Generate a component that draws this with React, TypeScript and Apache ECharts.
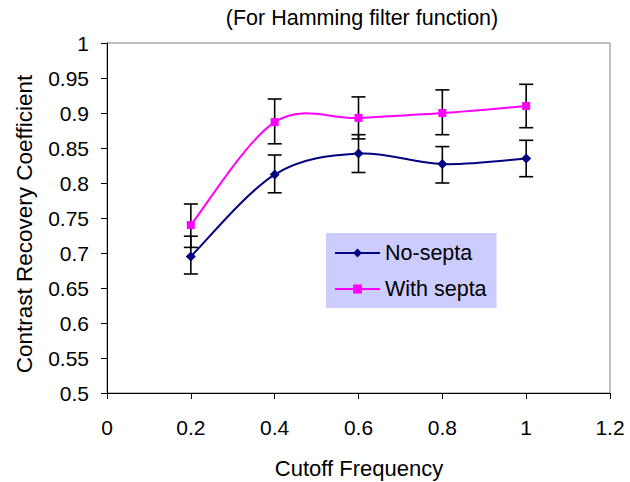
import React, { useEffect, useRef } from "react";
import * as echarts from "echarts";

const xs = [0.2, 0.4, 0.6, 0.8, 1.0];
const noSepta = [0.695, 0.812, 0.842, 0.827, 0.835];
const noSeptaLow = [0.670, 0.786, 0.815, 0.800, 0.809];
const noSeptaHigh = [0.724, 0.840, 0.869, 0.852, 0.861];
const withSepta = [0.740, 0.887, 0.893, 0.900, 0.910];
const withSeptaLow = [0.708, 0.856, 0.863, 0.869, 0.879];
const withSeptaHigh = [0.770, 0.920, 0.923, 0.933, 0.941];

const NAVY = "#000080";
const MAGENTA = "#ff00ff";
const FONT = "'Liberation Sans', Arial, sans-serif";

function makeCurve(name: string, ys: number[], color: string) {
  const n = xs.length;
  return {
    type: "custom",
    name,
    z: 3,
    silent: true,
    data: xs.map((x, i) => [x, ys[i]]),
    encode: { x: 0, y: 1 },
    renderItem: (params: any, api: any) => {
      const i = params.dataIndex;
      if (i >= n - 1) return { type: "group", children: [] };
      const P = (k: number) => {
        const kk = Math.max(0, Math.min(n - 1, k));
        return api.coord([xs[kk], ys[kk]]);
      };
      const p0 = P(i - 1), p1 = P(i), p2 = P(i + 1), p3 = P(i + 2);
      return {
        type: "bezierCurve",
        shape: {
          x1: p1[0], y1: p1[1], x2: p2[0], y2: p2[1],
          cpx1: p1[0] + (p2[0] - p0[0]) / 6,
          cpy1: p1[1] + (p2[1] - p0[1]) / 6,
          cpx2: p2[0] - (p3[0] - p1[0]) / 6,
          cpy2: p2[1] - (p3[1] - p1[1]) / 6,
        },
        style: { stroke: color, lineWidth: 2, fill: "none" },
      };
    },
  };
}

function makeErr(low: number[], high: number[]) {
  return {
    type: "custom",
    z: 2,
    silent: true,
    data: xs.map((x, i) => [x, low[i], high[i]]),
    encode: { x: 0, y: [1, 2] },
    renderItem: (params: any, api: any) => {
      const x = api.value(0);
      const lo = api.coord([x, api.value(1)]);
      const hi = api.coord([x, api.value(2)]);
      const w = 7;
      const st = { stroke: "#000", lineWidth: 1.6 };
      return {
        type: "group",
        children: [
          { type: "line", shape: { x1: lo[0], y1: lo[1], x2: hi[0], y2: hi[1] }, style: st },
          { type: "line", shape: { x1: lo[0] - w, y1: lo[1], x2: lo[0] + w, y2: lo[1] }, style: st },
          { type: "line", shape: { x1: hi[0] - w, y1: hi[1], x2: hi[0] + w, y2: hi[1] }, style: st },
        ],
      };
    },
  };
}

export default function App() {
  const ref = useRef<HTMLDivElement>(null);
  useEffect(() => {
    if (!ref.current) return;
    const chart = echarts.init(ref.current, null, { renderer: "svg" });
    const axisCommon = {
      type: "value",
      splitLine: { show: false },
      axisLine: { show: true, lineStyle: { color: "#000", width: 1 } },
      axisTick: { show: true, length: 6, lineStyle: { color: "#000" } },
    };
    chart.setOption({
      animation: false,
      backgroundColor: "#fff",
      grid: {
        left: 107, right: 20, top: 43, bottom: 89,
        show: true, borderColor: "#808080", borderWidth: 1,
        containLabel: false, outerBoundsMode: "none",
      },
      xAxis: {
        ...axisCommon,
        min: 0, max: 1.2, interval: 0.2,
        axisLabel: { color: "#000", fontSize: 21, fontFamily: FONT, margin: 24 },
      },
      yAxis: {
        ...axisCommon,
        min: 0.5, max: 1, interval: 0.05,
        axisLabel: { color: "#000", fontSize: 21, fontFamily: FONT, margin: 18 },
      },
      legend: {
        orient: "vertical",
        left: 326, top: 233,
        padding: [9, 10, 8, 8],
        itemGap: 14,
        itemWidth: 45,
        itemHeight: 11,
        backgroundColor: "#ccccff",
        borderWidth: 0,
        data: ["No-septa", "With septa"],
        textStyle: { color: "#000", fontSize: 21.5, fontFamily: FONT, lineHeight: 22 },
        lineStyle: { opacity: 1, width: 2 },
      },
      graphic: [
        {
          type: "text", x: 362, y: 17.5, silent: true,
          style: { text: "(For Hamming filter function)", font: `21.5px ${FONT}`, fill: "#000", align: "center", verticalAlign: "middle" },
        },
        {
          type: "text", x: 359, y: 468, silent: true,
          style: { text: "Cutoff Frequency", font: `22px ${FONT}`, fill: "#000", align: "center", verticalAlign: "middle" },
        },
        {
          type: "text", x: 24, y: 224, rotation: Math.PI / 2, silent: true,
          style: { text: "Contrast Recovery Coefficient", font: `22.5px ${FONT}`, fill: "#000", align: "center", verticalAlign: "middle" },
        },
      ],
      series: [
        makeErr(noSeptaLow, noSeptaHigh),
        makeErr(withSeptaLow, withSeptaHigh),
        makeCurve("No-septa curve", noSepta, NAVY),
        makeCurve("With septa curve", withSepta, MAGENTA),
        {
          type: "line", name: "No-septa", z: 4,
          data: xs.map((x, i) => [x, noSepta[i]]),
          symbol: "diamond", symbolSize: 10, showAllSymbol: true,
          itemStyle: { color: NAVY },
          lineStyle: { color: NAVY, width: 2, opacity: 0 },
        },
        {
          type: "line", name: "With septa", z: 4,
          data: xs.map((x, i) => [x, withSepta[i]]),
          symbol: "rect", symbolSize: 8, showAllSymbol: true,
          itemStyle: { color: MAGENTA },
          lineStyle: { color: MAGENTA, width: 2, opacity: 0 },
        },
      ],
    });
    return () => chart.dispose();
  }, []);
  return (
    <div
      ref={ref}
      style={{ position: "fixed", left: 0, top: 0, width: 630, height: 482, background: "#fff" }}
    />
  );
}
